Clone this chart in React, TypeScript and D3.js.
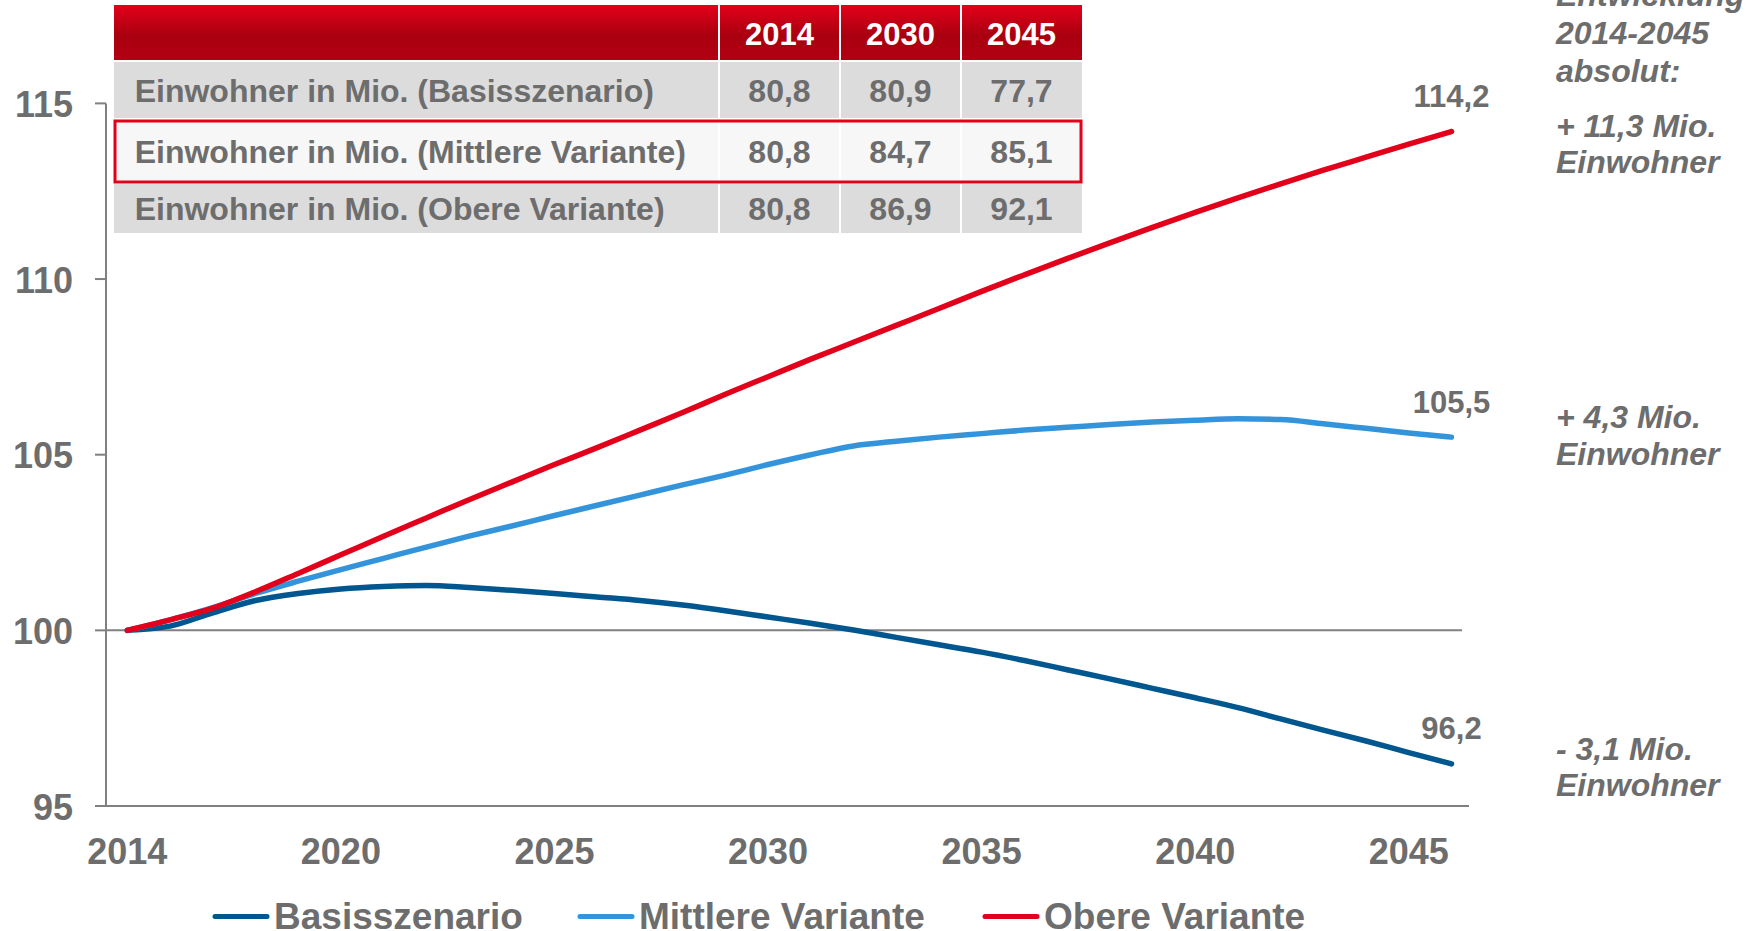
import React from "react";
import * as d3 from "d3";

const years = [2014, 2015, 2016, 2017, 2018, 2019, 2020, 2021, 2022, 2023, 2024, 2025, 2026, 2027, 2028, 2029, 2030, 2031, 2032, 2033, 2034, 2035, 2036, 2037, 2038, 2039, 2040, 2041, 2042, 2043, 2044, 2045];

const basis = [100, 100.12, 100.5, 100.85, 101.05, 101.18, 101.25, 101.28, 101.22, 101.14, 101.05, 100.95, 100.85, 100.72, 100.56, 100.38, 100.2, 100.01, 99.8, 99.59, 99.38, 99.14, 98.88, 98.62, 98.35, 98.08, 97.8, 97.48, 97.16, 96.85, 96.52, 96.2];
const mittlere = [100, 100.3, 100.65, 101.05, 101.4, 101.73, 102.05, 102.37, 102.68, 102.97, 103.27, 103.56, 103.85, 104.14, 104.42, 104.72, 105.0, 105.25, 105.38, 105.5, 105.6, 105.7, 105.78, 105.86, 105.93, 105.98, 106.02, 106.0, 105.88, 105.75, 105.62, 105.5];
const obere = [100, 100.3, 100.63, 101.1, 101.62, 102.15, 102.68, 103.2, 103.72, 104.22, 104.72, 105.2, 105.7, 106.2, 106.72, 107.22, 107.72, 108.2, 108.68, 109.16, 109.65, 110.12, 110.58, 111.03, 111.47, 111.9, 112.31, 112.71, 113.1, 113.47, 113.84, 114.2];

const seriesNames = ["Basisszenario", "Mittlere Variante", "Obere Variante"];
const seriesColors = ["#00568f", "#3494db", "#e2001a"];
const endLabels = ["96,2", "105,5", "114,2"];

const xTickIndex = [0, 5, 10, 15, 20, 25, 30];
const xTickLabels = ["2014", "2020", "2025", "2030", "2035", "2040", "2045"];
const yTicks = [95, 100, 105, 110, 115];

const tableYears = ["2014", "2030", "2045"];
const tableRows = [
  "Einwohner in Mio. (Basisszenario)",
  "Einwohner in Mio. (Mittlere Variante)",
  "Einwohner in Mio. (Obere Variante)",
];
const tableValues = [
  ["80,8", "80,9", "77,7"],
  ["80,8", "84,7", "85,1"],
  ["80,8", "86,9", "92,1"],
];

const annotHeader = ["Entwicklung", "2014-2045", "absolut:"];
const annotations = [
  ["+ 11,3 Mio.", "Einwohner"],
  ["+ 4,3 Mio.", "Einwohner"],
  ["- 3,1 Mio.", "Einwohner"],
];

const FONT = "'Liberation Sans', Arial, Helvetica, sans-serif";
const GRAY = "#6d6d6d";

export default function App() {
  const W = 1759;
  const H = 931;
  const x = d3.scaleLinear().domain([0, years.length - 1]).range([127.3, 1451.5]);
  const y = d3.scaleLinear().domain([95, 115]).range([806, 103.4]);
  const axisX = 106;

  const line = d3
    .line<number>()
    .x((_, i) => x(i))
    .y((d) => y(d))
    .curve(d3.curveMonotoneX);

  const allSeries = [basis, mittlere, obere];

  const colX = [114, 719, 840, 961, 1082];
  const rowY = [5, 61, 119, 183, 233];
  const rowFill = ["#dcdcdc", "#f7f7f7", "#dcdcdc"];

  const legendLineX = [215, 580, 985];
  const legendTextX = [274, 639, 1044];

  const annotY = [136.5, 428, 759.5];

  return (
    <svg
      width={W}
      height={H}
      style={{ position: "absolute", left: 0, top: 0, display: "block", background: "#fff" }}
      fontFamily={FONT}
    >
      <defs>
        <linearGradient id="hdr" x1="0" y1="0" x2="0" y2="1">
          <stop offset="0" stopColor="#e2001a" />
          <stop offset="0.55" stopColor="#a9000f" />
          <stop offset="1" stopColor="#b20013" />
        </linearGradient>
      </defs>

      <line x1={axisX} x2={axisX} y1={y(115)} y2={y(95)} stroke="#808080" strokeWidth={2} />
      {yTicks.map((t) => (
        <g key={t}>
          <line x1={95} x2={axisX} y1={y(t)} y2={y(t)} stroke="#808080" strokeWidth={2} />
          <text
            x={73}
            y={y(t) + 13.5}
            textAnchor="end"
            fontSize={36}
            fontWeight="bold"
            fill={GRAY}
          >
            {t}
          </text>
        </g>
      ))}
      <line x1={axisX} x2={1462} y1={y(100)} y2={y(100)} stroke="#808080" strokeWidth={2} />
      <line x1={axisX} x2={1469} y1={y(95)} y2={y(95)} stroke="#808080" strokeWidth={2} />

      {xTickIndex.map((ti, k) => (
        <text
          key={ti}
          x={x(ti)}
          y={863.5}
          textAnchor="middle"
          fontSize={36}
          fontWeight="bold"
          fill={GRAY}
        >
          {xTickLabels[k]}
        </text>
      ))}

      {allSeries.map((s, i) => (
        <path
          key={i}
          d={line(s) || ""}
          fill="none"
          stroke={seriesColors[i]}
          strokeWidth={5.5}
          strokeLinecap="round"
          strokeLinejoin="round"
        />
      ))}

      {allSeries.map((s, i) => (
        <text
          key={"el" + i}
          x={x(s.length - 1)}
          y={y(s[s.length - 1]) - 24.5}
          textAnchor="middle"
          fontSize={31}
          fontWeight="bold"
          fill={GRAY}
        >
          {endLabels[i]}
        </text>
      ))}

      <rect x={colX[0]} y={rowY[0]} width={colX[4] - colX[0]} height={rowY[1] - rowY[0]} fill="url(#hdr)" />
      {tableYears.map((yr, c) => (
        <text
          key={yr}
          x={(colX[c + 1] + colX[c + 2]) / 2}
          y={45}
          textAnchor="middle"
          fontSize={31}
          fontWeight="bold"
          fill="#ffffff"
        >
          {yr}
        </text>
      ))}
      {tableRows.map((r, ri) => (
        <g key={r}>
          <rect
            x={colX[0]}
            y={rowY[ri + 1]}
            width={colX[4] - colX[0]}
            height={rowY[ri + 2] - rowY[ri + 1]}
            fill={rowFill[ri]}
          />
          <text
            x={134.7}
            y={(rowY[ri + 1] + rowY[ri + 2]) / 2 + 11.5}
            fontSize={32}
            fontWeight="bold"
            fill={GRAY}
          >
            {r}
          </text>
          {tableValues[ri].map((v, c) => (
            <text
              key={c}
              x={(colX[c + 1] + colX[c + 2]) / 2}
              y={(rowY[ri + 1] + rowY[ri + 2]) / 2 + 11.5}
              textAnchor="middle"
              fontSize={32}
              fontWeight="bold"
              fill={GRAY}
            >
              {v}
            </text>
          ))}
        </g>
      ))}
      {colX.slice(1, 4).map((cx) => (
        <line key={cx} x1={cx} x2={cx} y1={rowY[0]} y2={rowY[4]} stroke="#ffffff" strokeWidth={2} />
      ))}
      {rowY.slice(1, 4).map((ry) => (
        <line key={ry} x1={colX[0]} x2={colX[4]} y1={ry} y2={ry} stroke="#ffffff" strokeWidth={2} />
      ))}
      <rect x={115} y={121} width={966} height={61} fill="none" stroke="#e2001a" strokeWidth={3} />

      {annotHeader.map((t, i) => (
        <text
          key={t}
          x={1556}
          y={6.3 + i * 37.8}
          fontSize={32}
          fontWeight="bold"
          fontStyle="italic"
          fill={GRAY}
        >
          {t}
        </text>
      ))}
      {annotations.map((a, i) =>
        a.map((t, j) => (
          <text
            key={i + "-" + j}
            x={1556}
            y={annotY[i] + j * 36.8}
            fontSize={32}
            fontWeight="bold"
            fontStyle="italic"
            fill={GRAY}
          >
            {t}
          </text>
        ))
      )}

      {seriesNames.map((n, i) => (
        <g key={n}>
          <line
            x1={legendLineX[i]}
            x2={legendLineX[i] + 52}
            y1={916.5}
            y2={916.5}
            stroke={seriesColors[i]}
            strokeWidth={5}
            strokeLinecap="round"
          />
          <text
            x={legendTextX[i]}
            y={928.5}
            fontSize={37}
            fontWeight="bold"
            fill={GRAY}
          >
            {n}
          </text>
        </g>
      ))}
    </svg>
  );
}
